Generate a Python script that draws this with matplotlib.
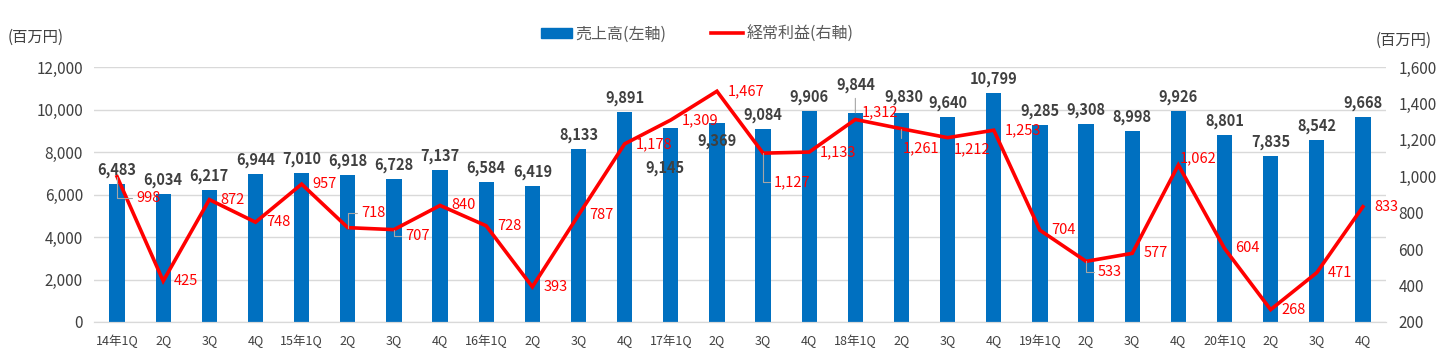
import matplotlib
matplotlib.use("Agg")
import matplotlib.pyplot as plt
from matplotlib.lines import Line2D
from matplotlib.patches import Patch
from matplotlib.ticker import FuncFormatter, MultipleLocator
import numpy as np

# Quarter labels (x axis)
quarters = [
    "14年1Q", "2Q", "3Q", "4Q",
    "15年1Q", "2Q", "3Q", "4Q",
    "16年1Q", "2Q", "3Q", "4Q",
    "17年1Q", "2Q", "3Q", "4Q",
    "18年1Q", "2Q", "3Q", "4Q",
    "19年1Q", "2Q", "3Q", "4Q",
    "20年1Q", "2Q", "3Q", "4Q",
]
# 売上高 (left axis, 百万円)
sales = [
    6483, 6034, 6217, 6944,
    7010, 6918, 6728, 7137,
    6584, 6419, 8133, 9891,
    9145, 9369, 9084, 9906,
    9844, 9830, 9640, 10799,
    9285, 9308, 8998, 9926,
    8801, 7835, 8542, 9668,
]
# 経常利益 (right axis, 百万円)
profit = [
    998, 425, 872, 748,
    957, 718, 707, 840,
    728, 393, 787, 1178,
    1309, 1467, 1127, 1133,
    1312, 1261, 1212, 1253,
    704, 533, 577, 1062,
    604, 268, 471, 833,
]

sales_name = "売上高(左軸)"
profit_name = "経常利益(右軸)"
unit = "(百万円)"

# label placement tweaks (pixel offsets), mimicking the hand-moved Excel labels
sales_offsets = {12: (-6, -40), 13: (0, -18), 16: (0, 28), 17: (2, 16)}
sales_leaders = {16}
profit_offsets = {0: (19, -21), 5: (13, 15), 6: (11, -6), 14: (11, -29),
                  16: (6, 7), 17: (1, -20), 18: (6, -12), 21: (12, -11), 23: (1, 7)}
profit_leaders = {0, 5, 6, 14, 17, 21}

BLUE = "#0070C0"
RED = "#FF0000"
GRID = "#D9D9D9"
TXT = "#404040"
FONT = ["Liberation Sans Narrow", "Noto Sans CJK JP", "DejaVu Sans"]

plt.rcParams["font.family"] = FONT

fig = plt.figure(figsize=(14.41, 3.56), dpi=100)
ax = fig.add_axes([94 / 1441, 1 - 322 / 356, (1386 - 94) / 1441, (322 - 67) / 356])
ax2 = ax.twinx()

x = np.arange(len(quarters))
ax.bar(x, sales, width=0.33, color=BLUE, zorder=2)
ax.set_xlim(-0.5, len(quarters) - 0.5)
ax.set_ylim(0, 12000)
ax.yaxis.set_major_locator(MultipleLocator(2000))
ax.yaxis.set_major_formatter(FuncFormatter(lambda v, p: f"{int(v):,}"))
ax.grid(axis="y", color=GRID, lw=1, zorder=0)
ax.set_axisbelow(True)

ax2.plot(x, profit, color=RED, lw=2.6, zorder=3, solid_joinstyle="miter")
ax2.set_ylim(200, 1600)
ax2.yaxis.set_major_locator(MultipleLocator(200))
ax2.yaxis.set_major_formatter(FuncFormatter(lambda v, p: f"{int(v):,}"))

for a in (ax, ax2):
    for s in ("top", "left", "right"):
        a.spines[s].set_visible(False)
    a.spines["bottom"].set_color(GRID)
    a.tick_params(length=0, colors=TXT, labelsize=11)
ax.tick_params(axis="y", pad=8)
ax2.tick_params(axis="y", pad=9)
ax.set_xticks(x)
ax.set_xticklabels(quarters, fontsize=9)
ax.tick_params(axis="x", pad=9)

# sales value labels
for i, v in enumerate(sales):
    dx, dy = sales_offsets.get(i, (0, 14))
    arrow = dict(arrowstyle="-", color="#A6A6A6", lw=0.8, shrinkA=2, shrinkB=0) if i in sales_leaders else None
    ax2.annotate(f"{v:,}", xy=(i, v), xycoords=ax.transData, xytext=(dx, dy),
                 textcoords="offset pixels", ha="center", va="center",
                 fontsize=10.5, fontweight="bold", color=TXT, arrowprops=arrow, zorder=5)

# profit value labels
for i, v in enumerate(profit):
    dx, dy = profit_offsets.get(i, (11, 0))
    arrow = dict(arrowstyle="-", color="#A6A6A6", lw=0.8, shrinkA=1, shrinkB=0,
                 connectionstyle="angle,angleA=0,angleB=90,rad=0") if i in profit_leaders else None
    ax2.annotate(f"{v:,}", xy=(i, v), xytext=(dx, dy), textcoords="offset pixels",
                 ha="left", va="center", fontsize=10.5, color=RED, arrowprops=arrow, zorder=5)

fig.text(8 / 1441, 1 - 37 / 356, unit, fontsize=11, color=TXT, ha="left", va="center")
fig.text(1432 / 1441, 1 - 40 / 356, unit, fontsize=11, color=TXT, ha="right", va="center")

handles = [Patch(color=BLUE), Line2D([0], [0], color=RED, lw=2.6)]
fig.legend(handles, [sales_name, profit_name], loc="center", bbox_to_anchor=(697 / 1441, 1 - 34 / 356),
           ncol=2, frameon=False, fontsize=11.5, labelcolor="#595959",
           handlelength=2.0, handleheight=0.6, handletextpad=0.2, columnspacing=2.8)

fig.savefig("out.png", dpi=100)
